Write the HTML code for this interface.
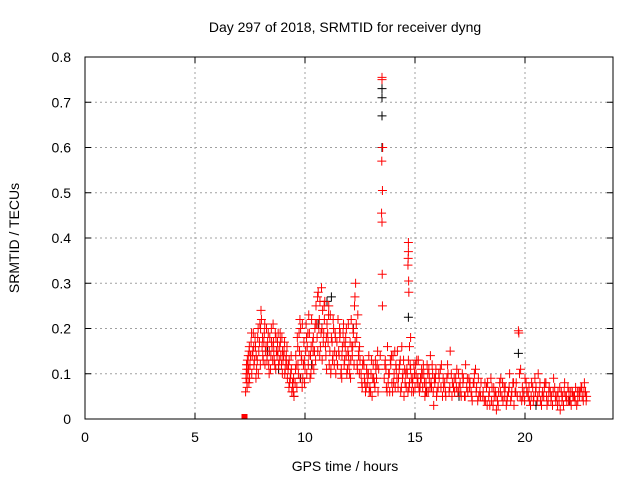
<!DOCTYPE html>
<html><head><meta charset="utf-8"><style>
html,body{margin:0;padding:0;background:#fff;}
svg{display:block;font-family:"Liberation Sans",sans-serif;}
</style></head><body>
<svg id="chart" width="640" height="480" viewBox="0 0 640 480" xmlns="http://www.w3.org/2000/svg">
<text x="345" y="32" font-size="14" text-anchor="middle">Day 297 of 2018, SRMTID for receiver dyng</text>
<text x="345" y="471" font-size="14" text-anchor="middle">GPS time / hours</text>
<text x="0" y="0" font-size="14" text-anchor="middle" transform="translate(19,238) rotate(-90)">SRMTID / TECUs</text>
<g id="grid"></g>
<g id="axes"></g>
<g id="black-series"></g>
<g id="red-series"></g>
<rect x="85" y="57" width="528" height="362" fill="none" stroke="#000" stroke-width="1"/>
</svg>
<script>
const xTicks=[0,5,10,15,20];
const yTicks=[0,0.1,0.2,0.3,0.4,0.5,0.6,0.7,0.8];
const yTickLabels=["0","0.1","0.2","0.3","0.4","0.5","0.6","0.7","0.8"];
const redT=[7.30,7.32,7.34,7.36,7.38,7.40,7.42,7.44,7.46,7.48,7.50,7.55,7.60,7.65,7.70,7.75,7.80,7.85,7.90,7.95,8.00,8.02,8.05,8.10,8.15,8.20,8.25,8.30,8.35,8.40,8.45,8.50,8.55,8.60,8.65,8.70,8.75,8.80,8.85,8.90,8.95,9.00,9.05,9.10,9.15,9.20,9.25,9.30,9.35,9.40,9.45,9.50,
7.33,7.37,7.41,7.47,7.52,7.58,7.63,7.68,7.73,7.78,7.83,7.88,7.93,7.98,8.08,8.13,8.18,8.23,8.28,8.33,8.38,8.43,8.48,8.53,8.58,8.63,8.68,8.73,8.78,8.83,8.88,8.93,8.98,9.03,9.08,9.13,9.18,9.23,9.28,9.33,9.38,9.43,9.48,
9.55,9.6,9.65,9.7,9.75,9.8,9.85,9.9,9.95,10.0,10.05,10.1,10.15,10.2,10.25,10.3,10.35,10.4,10.45,10.5,10.55,10.6,10.65,10.7,10.75,10.8,10.85,10.9,10.95,11.0,11.05,11.1,11.15,11.2,11.25,11.3,11.35,11.4,11.45,11.5,11.55,11.6,11.65,11.7,11.75,11.8,11.85,11.9,11.95,12.0,12.05,12.1,12.15,12.2,12.25,12.3,12.35,12.4,12.45,12.5,
9.58,9.63,9.68,9.73,9.78,9.83,9.88,9.93,9.98,10.03,10.08,10.13,10.18,10.23,10.28,10.33,10.38,10.43,10.48,10.53,10.58,10.63,10.68,10.73,10.78,10.83,10.88,10.93,10.98,11.03,11.08,11.13,11.18,11.23,11.28,11.33,11.38,11.43,11.48,11.53,11.58,11.63,11.68,11.73,11.78,11.83,11.88,11.93,11.98,12.03,12.08,12.13,12.18,12.23,12.28,12.33,12.38,12.43,12.48,
12.55,12.6,12.65,12.7,12.75,12.8,12.85,12.9,12.95,13.0,13.05,13.1,13.15,13.2,13.25,13.3,13.35,12.58,12.68,12.78,12.88,12.98,13.08,13.18,13.28,
13.5,13.5,13.49,13.48,13.52,13.5,13.51,13.52,13.53,
13.6,13.65,13.7,13.75,13.8,13.85,13.9,13.95,14.0,14.05,14.1,14.15,14.2,14.25,14.3,14.35,14.4,14.45,14.5,14.55,13.63,13.73,13.83,13.93,14.03,14.13,14.23,14.33,14.43,14.53,
14.7,14.7,14.69,14.68,14.71,14.72,14.8,14.75,
14.6,14.65,14.7,14.75,14.8,14.85,14.9,14.95,15.0,15.05,15.1,15.15,15.2,15.25,15.3,15.35,15.4,15.45,15.5,15.55,15.6,15.65,15.7,15.75,15.8,15.85,15.9,15.95,16.0,16.1,16.2,16.3,16.4,16.5,16.6,16.7,16.8,16.9,17.0,17.1,17.2,17.3,17.4,17.5,17.6,17.7,17.8,17.9,18.0,
14.63,14.73,14.83,14.93,15.03,15.13,15.23,15.33,15.43,15.53,15.63,15.73,15.83,15.93,16.05,16.15,16.25,16.35,16.45,16.55,16.65,16.75,16.85,16.95,17.05,17.15,17.25,17.35,17.45,17.55,17.65,17.75,17.85,17.95,
18.1,18.2,18.3,18.4,18.5,18.6,18.7,18.8,18.9,19.0,19.1,19.2,19.3,19.4,19.5,19.6,19.8,19.9,20.0,20.1,20.2,20.3,20.4,20.5,20.6,20.7,20.8,20.9,21.0,21.1,21.2,21.3,21.4,21.5,21.6,21.7,21.8,21.9,22.0,22.1,22.2,22.3,22.4,22.5,22.6,22.7,22.8,
18.15,18.25,18.35,18.45,18.55,18.65,18.75,18.85,18.95,19.05,19.15,19.25,19.35,19.45,19.55,19.65,19.75,19.85,19.95,20.05,20.15,20.25,20.35,20.45,20.55,20.65,20.75,20.85,20.95,21.05,21.15,21.25,21.35,21.45,21.55,21.65,21.75,21.85,21.95,22.05,22.15,22.25,22.35,22.45,22.55,22.65,22.75,
19.7,19.72,
7.35,7.45,7.57,7.67,7.77,7.87,7.97,8.07,8.17,8.27,8.37,8.47,8.57,8.67,8.77,8.87,8.97,9.07,9.17,9.27,9.37,9.47,9.57,9.67,9.77,9.87,9.97,10.07,10.17,10.27,10.37,10.47,10.57,10.67,10.77,10.87,10.97,11.07,11.17,11.27,11.37,11.47,11.57,11.67,11.77,11.87,11.97,12.07,12.17,12.27,12.37,12.47,
12.62,12.72,12.82,12.92,13.02,13.12,13.22,13.32,13.42,13.68,13.78,13.88,13.98,14.08,14.18,14.28,14.38,14.48,14.58,14.68,14.78,14.88,14.98,15.08,15.18,15.28,15.38,15.48,15.58,15.68,15.78,15.88,15.98,16.08,16.18,16.28,16.38,16.48,16.58,16.68,16.78,16.88,16.98,17.08,17.18,17.28,17.38,17.48,17.58,17.68,17.78,17.88,17.98,
18.08,18.18,18.28,18.38,18.48,18.58,18.68,18.78,18.88,18.98,19.08,19.18,19.28,19.38,19.48,19.58,19.78,19.88,19.98,20.08,20.18,20.28,20.38,20.48,20.58,20.68,20.78,20.88,20.98,21.08,21.18,21.28,21.38,21.48,21.58,21.68,21.78,21.88,21.98,22.08,22.18,22.28,22.38,22.48,22.58,22.68,22.78];
const redV=[.06,.09,.12,.08,.13,.10,.14,.11,.15,.09,.12,.17,.14,.19,.13,.16,.11,.18,.15,.21,.24,.22,.16,.13,.19,.15,.20,.17,.12,.18,.14,.16,.21,.13,.19,.15,.17,.12,.16,.14,.18,.13,.15,.11,.14,.09,.12,.08,.10,.06,.07,.05,
.10,.07,.12,.16,.14,.10,.15,.12,.18,.14,.13,.10,.17,.20,.14,.17,.12,.16,.14,.19,.15,.11,.17,.13,.15,.12,.18,.14,.19,.13,.17,.12,.15,.14,.10,.13,.16,.11,.13,.09,.11,.08,.09,
.08,.12,.18,.10,.15,.20,.13,.09,.17,.11,.21,.16,.12,.19,.14,.22,.17,.11,.20,.25,.18,.28,.22,.16,.29,.24,.19,.26,.14,.21,.17,.12,.23,.18,.13,.20,.15,.10,.17,.22,.14,.19,.11,.16,.21,.13,.18,.10,.15,.12,.17,.22,.14,.19,.25,.30,.18,.23,.15,.13,
.14,.07,.12,.19,.09,.14,.21,.12,.08,.15,.10,.19,.14,.09,.16,.12,.18,.15,.13,.21,.15,.20,.26,.19,.13,.17,.22,.16,.11,.19,.25,.15,.11,.17,.22,.12,.18,.14,.12,.15,.18,.10,.14,.19,.12,.16,.20,.11,.14,.10,.13,.16,.20,.12,.17,.21,.11,.14,.16,
.10,.07,.13,.09,.06,.11,.08,.14,.07,.10,.05,.12,.08,.13,.09,.15,.11,.08,.12,.07,.10,.06,.09,.07,.12,
.755,.75,.57,.455,.505,.435,.32,.25,.60,
.09,.13,.07,.16,.10,.06,.12,.08,.14,.10,.07,.11,.15,.09,.12,.06,.16,.10,.05,.08,.12,.06,.10,.14,.08,.12,.07,.13,.09,.11,
.39,.37,.355,.34,.305,.28,.18,.16,
.07,.10,.13,.08,.11,.06,.09,.12,.07,.10,.08,.13,.06,.09,.11,.07,.10,.05,.08,.12,.06,.09,.14,.07,.10,.03,.08,.11,.06,.09,.12,.07,.05,.10,.15,.08,.06,.11,.07,.05,.09,.12,.06,.08,.04,.10,.07,.05,.08,
.11,.07,.09,.06,.12,.09,.07,.10,.08,.06,.11,.08,.06,.09,.07,.11,.05,.08,.09,.06,.10,.07,.09,.06,.08,.10,.05,.07,.09,.06,.08,.11,.04,.06,
.06,.04,.08,.03,.07,.05,.02,.06,.09,.04,.07,.05,.10,.06,.03,.08,.11,.05,.09,.06,.04,.08,.05,.07,.10,.04,.06,.08,.03,.07,.05,.09,.04,.06,.02,.05,.08,.04,.06,.03,.05,.07,.04,.06,.05,.08,.05,
.04,.07,.05,.09,.03,.06,.04,.08,.05,.07,.03,.06,.04,.08,.06,.05,.10,.04,.06,.08,.05,.03,.07,.09,.04,.06,.03,.05,.08,.04,.06,.03,.07,.05,.04,.06,.03,.05,.07,.04,.06,.05,.03,.06,.07,.04,.06,
.195,.19,
.11,.08,.19,.16,.09,.20,.12,.18,.21,.13,.10,.20,.17,.11,.15,.19,.10,.17,.12,.07,.14,.06,.11,.16,.22,.07,.13,.18,.23,.10,.15,.21,.27,.14,.20,.25,.18,.23,.10,.14,.19,.12,.20,.09,.17,.14,.21,.09,.16,.27,.12,.10,
.12,.08,.10,.06,.13,.09,.11,.06,.14,.11,.08,.13,.06,.15,.09,.11,.07,.13,.10,.06,.12,.08,.10,.13,.07,.09,.12,.06,.10,.07,.12,.09,.05,.10,.07,.09,.06,.12,.07,.05,.09,.07,.10,.06,.08,.05,.09,.07,.05,.08,.06,.09,.05,
.05,.08,.03,.06,.04,.07,.05,.03,.06,.08,.05,.04,.07,.05,.08,.06,.05,.07,.04,.06,.07,.05,.04,.06,.05,.08,.05,.07,.05,.06,.04,.06,.05,.03,.07,.04,.06,.05,.04,.06,.05,.04,.06,.05,.07,.06,.04];
const blackT=[8.3,9.5,9.8,10.3,11.0,11.2,12.2,13.5,13.5,13.5,13.5,14.7,15.5,17.0,19.7,20.5,22.0,10.6,8.8];
const blackV=[.15,.05,.09,.12,.26,.27,.20,.73,.71,.67,.60,.225,.06,.05,.145,.03,.04,.21,.11];
const squareT=[7.25];
const squareV=[0];

const X0=85,X1=613,Y0=419,Y1=57,XMAX=24,YMAX=0.8;
const xs=t=>X0+(t/XMAX)*(X1-X0);
const ys=v=>Y0-(v/YMAX)*(Y0-Y1);
const NS="http://www.w3.org/2000/svg";
function mk(tag,attrs,parent){const e=document.createElementNS(NS,tag);for(const k in attrs)e.setAttribute(k,attrs[k]);parent.appendChild(e);return e;}
const grid=document.getElementById('grid'),axes=document.getElementById('axes');
xTicks.forEach(t=>{
  const x=xs(t);
  if(t>0){const g=mk('line',{x1:x,x2:x,y1:Y1,y2:Y0,stroke:'#a0a0a0','stroke-dasharray':'2,3'},grid);
  
  }
  const tk=mk('path',{d:`M${x},${Y0}v-6M${x},${Y1}v6`,stroke:'#000'},axes);
  
  
  const lb=mk('text',{x:x,y:442,'font-size':14,'text-anchor':'middle'},axes);lb.textContent=String(t);
  
  
});
yTicks.forEach((v,i)=>{
  const y=ys(v);
  if(v>0&&v<YMAX){const g=mk('line',{x1:X0,x2:X1,y1:y,y2:y,stroke:'#a0a0a0','stroke-dasharray':'2,3'},grid);
  
  }
  const tk=mk('path',{d:`M${X0},${y}h6M${X1},${y}h-6`,stroke:'#000'},axes);
  
  
  const lb=mk('text',{x:71,y:y+5,'font-size':14,'text-anchor':'end'},axes);lb.textContent=yTickLabels[i];
  
  
});
function plus(parent,t,v,col,name){
  const x=xs(t),y=ys(v);
  const p=mk('path',{d:`M${x-4.5},${y}h9M${x},${y-4.5}v9`,stroke:col,'stroke-width':1},parent);
  
  
}
const bg=document.getElementById('black-series'),rg=document.getElementById('red-series');
blackT.forEach((t,i)=>plus(bg,t,blackV[i],'#000','black-point'));
redT.forEach((t,i)=>plus(rg,t,redV[i],'#f00','red-point'));
squareT.forEach((t,i)=>{
  const s=mk('rect',{x:xs(t)-3,y:ys(squareV[i])-5,width:6,height:5,fill:'#f00'},rg);
  
  
});
</script>
</body></html>
